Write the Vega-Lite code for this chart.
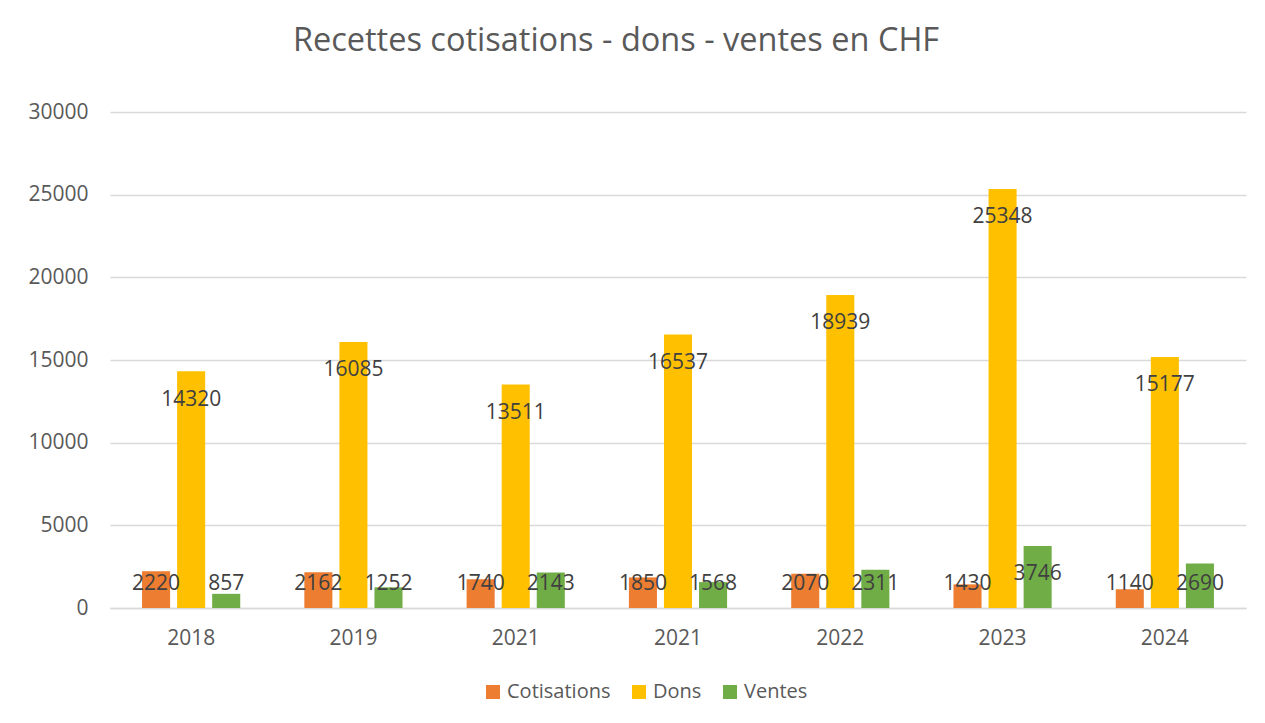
{
  "$schema": "https://vega.github.io/schema/vega-lite/v6.json",
  "width": 1136,
  "height": 496,
  "autosize": {"type": "none"},
  "padding": {"left": 110, "top": 112, "right": 19, "bottom": 115},
  "background": "white",
  "title": {
    "text": "Recettes cotisations - dons - ventes en CHF",
    "anchor": "middle",
    "frame": "group",
    "dx": -62,
    "offset": 44,
    "font": "Open Sans",
    "fontSize": 32.5,
    "fontWeight": "normal",
    "color": "#595959"
  },
  "config": {
    "view": {"stroke": null},
    "font": "Open Sans"
  },
  "data": {
    "values": [
      {"annee": "2018", "serie": "Cotisations", "valeur": 2220},
      {"annee": "2018", "serie": "Dons", "valeur": 14320},
      {"annee": "2018", "serie": "Ventes", "valeur": 857},
      {"annee": "2019", "serie": "Cotisations", "valeur": 2162},
      {"annee": "2019", "serie": "Dons", "valeur": 16085},
      {"annee": "2019", "serie": "Ventes", "valeur": 1252},
      {"annee": "2021", "serie": "Cotisations", "valeur": 1740},
      {"annee": "2021", "serie": "Dons", "valeur": 13511},
      {"annee": "2021", "serie": "Ventes", "valeur": 2143},
      {"annee": "2021 ", "serie": "Cotisations", "valeur": 1850},
      {"annee": "2021 ", "serie": "Dons", "valeur": 16537},
      {"annee": "2021 ", "serie": "Ventes", "valeur": 1568},
      {"annee": "2022", "serie": "Cotisations", "valeur": 2070},
      {"annee": "2022", "serie": "Dons", "valeur": 18939},
      {"annee": "2022", "serie": "Ventes", "valeur": 2311},
      {"annee": "2023", "serie": "Cotisations", "valeur": 1430},
      {"annee": "2023", "serie": "Dons", "valeur": 25348},
      {"annee": "2023", "serie": "Ventes", "valeur": 3746},
      {"annee": "2024", "serie": "Cotisations", "valeur": 1140},
      {"annee": "2024", "serie": "Dons", "valeur": 15177},
      {"annee": "2024", "serie": "Ventes", "valeur": 2690}
    ]
  },
  "encoding": {
    "x": {
      "field": "annee",
      "type": "nominal",
      "sort": null,
      "scale": {"paddingInner": 0.395, "paddingOuter": 0.1975},
      "axis": {
        "title": null,
        "labelAngle": 0,
        "labelFontSize": 21,
        "labelColor": "#595959",
        "labelPadding": 19,
        "ticks": false,
        "domainColor": "#d9d9d9",
        "domainWidth": 1.5
      }
    },
    "xOffset": {
      "field": "serie",
      "type": "nominal",
      "sort": ["Cotisations", "Dons", "Ventes"],
      "scale": {"paddingInner": 0.2, "paddingOuter": 0}
    }
  },
  "layer": [
    {
      "mark": {"type": "bar"},
      "encoding": {
        "y": {
          "field": "valeur",
          "type": "quantitative",
          "scale": {"domain": [0, 30000], "nice": false},
          "axis": {
            "title": null,
            "values": [0, 5000, 10000, 15000, 20000, 25000, 30000],
            "format": "d",
            "labelFontSize": 21,
            "labelColor": "#595959",
            "labelPadding": 22,
            "ticks": false,
            "domain": false,
            "gridColor": "#d9d9d9",
            "gridWidth": 1.5
          }
        },
        "color": {
          "field": "serie",
          "type": "nominal",
          "sort": ["Cotisations", "Dons", "Ventes"],
          "scale": {"domain": ["Cotisations", "Dons", "Ventes"], "range": ["#ED7D31", "#FFC000", "#70AD47"]},
          "legend": {
            "title": null,
            "orient": "none",
            "direction": "horizontal",
            "legendX": 373,
            "legendY": 570,
            "symbolType": "square",
            "symbolSize": 196,
            "symbolStrokeWidth": 0,
            "labelFontSize": 20,
            "labelColor": "#595959",
            "labelOffset": 4,
            "columnPadding": 18
          }
        }
      }
    },
    {
      "transform": [{"calculate": "max(datum.valeur - 2080, 1090)", "as": "pos"}],
      "mark": {"type": "text", "baseline": "alphabetic", "fontSize": 21, "color": "#404040"},
      "encoding": {
        "y": {"field": "pos", "type": "quantitative"},
        "text": {"field": "valeur", "type": "quantitative", "format": "d"}
      }
    }
  ]
}
